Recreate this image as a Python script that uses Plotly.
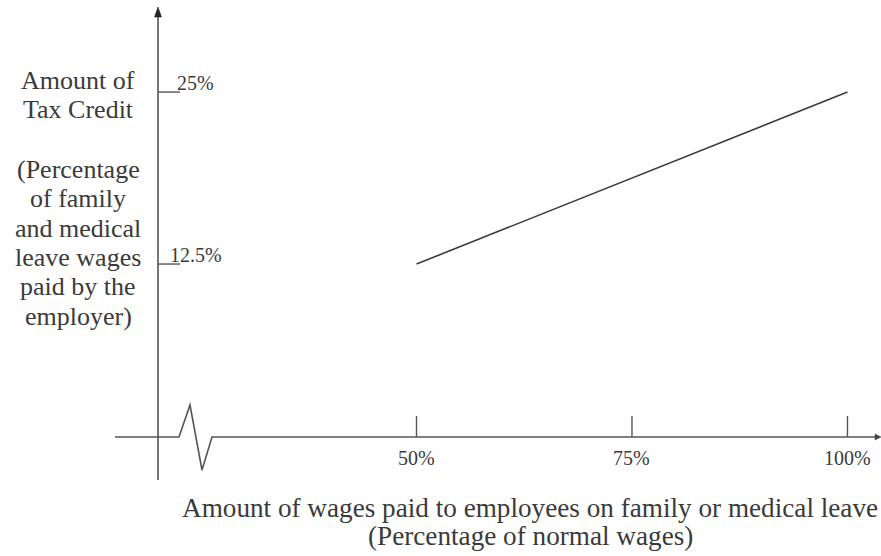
import plotly.graph_objects as go

# ---- data ----
wage_pct = [50, 100]            # % of normal wages paid
credit_pct = [12.5, 25]         # tax credit (% of leave wages)
x_tick_vals = [50, 75, 100]
x_tick_labels = ["50%", "75%", "100%"]
y_tick_vals = [25, 12.5]
y_tick_labels = ["25%", "12.5%"]
y_title_lines = ["Amount of", "Tax Credit", "", "(Percentage", "of family",
                 "and medical", "leave wages", "paid by the", "employer)"]
x_title_lines = ["Amount of wages paid to employees on family or medical leave",
                 "(Percentage of normal wages)"]

W, H = 881, 556
FONT = "Liberation Serif"
INK = "#3a3a3a"
LINE = "#555555"

def px(x):
    return x / W

def py(y):
    return 1 - y / H

fig = go.Figure()
fig.add_trace(go.Scatter(x=wage_pct, y=credit_pct, mode="lines",
                         line=dict(color="#3c3c3c", width=1.6),
                         hoverinfo="skip", showlegend=False))

shapes = []
ann = []

# y axis line and arrow
shapes.append(dict(type="line", xref="paper", yref="paper",
                   x0=px(158), x1=px(158), y0=py(480), y1=py(12),
                   line=dict(color=LINE, width=1.6)))
shapes.append(dict(type="path", xref="paper", yref="paper",
                   path=f"M {px(154.5)} {py(17)} L {px(161.5)} {py(17)} L {px(158)} {py(7)} Z",
                   fillcolor="#222", line=dict(color="#222", width=0.5)))

# x axis with break zigzag
zig = [(115, 437), (179, 437), (190, 405), (202, 470), (212, 437), (878, 437)]
path = "M " + " L ".join(f"{px(a)} {py(b)}" for a, b in zig)
shapes.append(dict(type="path", xref="paper", yref="paper", path=path,
                   line=dict(color=LINE, width=1.6)))
shapes.append(dict(type="path", xref="paper", yref="paper",
                   path=f"M {px(875)} {py(434)} L {px(881)} {py(437)} L {px(875)} {py(440)} Z",
                   fillcolor="#444", line=dict(color="#444", width=0.5)))

# x ticks
for v, lab in zip(x_tick_vals, x_tick_labels):
    shapes.append(dict(type="line", xref="x", yref="paper",
                       x0=v, x1=v, y0=py(437), y1=py(416),
                       line=dict(color=LINE, width=1.4)))
    ann.append(dict(x=v, y=py(458), xref="x", yref="paper", text=lab,
                    showarrow=False, xanchor="center", yanchor="middle",
                    font=dict(family=FONT, size=20, color=INK)))

# y ticks
for v, lab in zip(y_tick_vals, y_tick_labels):
    shapes.append(dict(type="line", xref="paper", yref="y",
                       x0=px(158), x1=px(180), y0=v, y1=v,
                       line=dict(color=LINE, width=1.4)))
    ann.append(dict(x=px(195.5), y=v, xref="paper", yref="y", text=lab,
                    showarrow=False, xanchor="center", yanchor="middle",
                    yshift=9, font=dict(family=FONT, size=20, color=INK)))

# y title lines
y_base = [89, 118, None, 178, 207, 237, 266, 295, 325]
for t, b in zip(y_title_lines, y_base):
    if not t:
        continue
    ann.append(dict(x=px(78), y=py(b - 8.5), xref="paper", yref="paper", text=t,
                    showarrow=False, xanchor="center", yanchor="middle",
                    font=dict(family=FONT, size=26, color=INK)))

# x title lines
for t, b in zip(x_title_lines, [517, 545]):
    ann.append(dict(x=px(530), y=py(b - 9), xref="paper", yref="paper", text=t,
                    showarrow=False, xanchor="center", yanchor="middle",
                    font=dict(family=FONT, size=27.2, color=INK)))

fig.update_layout(
    width=W, height=H,
    margin=dict(l=0, r=0, t=0, b=0),
    paper_bgcolor="white", plot_bgcolor="white",
    shapes=shapes, annotations=ann,
    xaxis=dict(range=[1.68, 103.89], showgrid=False, zeroline=False,
               showticklabels=False, showline=False, ticks="", fixedrange=True),
    yaxis=dict(range=[-8.72, 31.69], showgrid=False, zeroline=False,
               showticklabels=False, showline=False, ticks="", fixedrange=True),
    showlegend=False,
)

fig.write_html("out.html", config={"displayModeBar": False},
               post_script="document.body.style.margin='0';document.body.style.padding='0';")
